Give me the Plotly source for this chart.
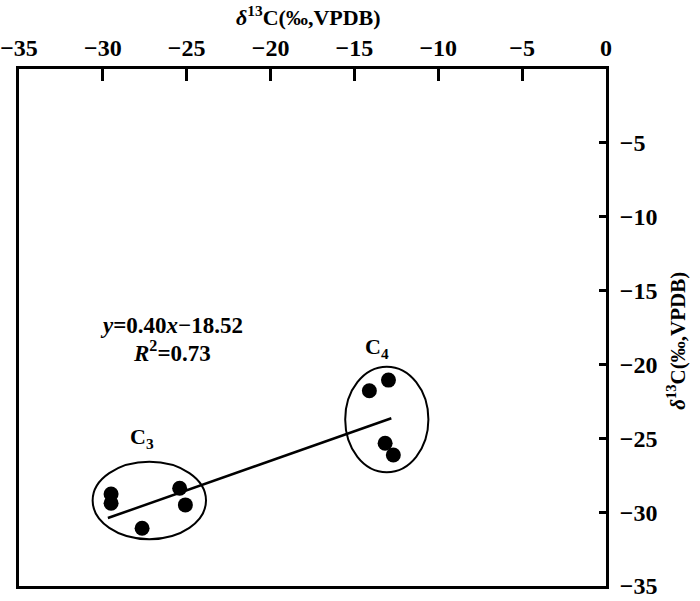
import plotly.graph_objects as go

# Data
c3_x = [-29.51, -29.51, -25.42, -25.08, -27.66]
c3_y = [-28.77, -29.40, -28.38, -29.51, -31.09]
c4_x = [-14.11, -12.97, -13.17, -12.68]
c4_y = [-21.78, -21.06, -25.34, -26.13]

slope = 0.40
intercept = -18.52
fit_x = [-29.7, -12.8]
fit_y = [slope * v + intercept for v in fit_x]

# cluster ellipses: centre x, centre y, half-width, half-height
ell_c3 = [-27.23, -29.21, 3.38, 2.62]
ell_c4 = [-13.07, -23.73, 2.48, 3.57]

x_ticks = [-35, -30, -25, -20, -15, -10, -5, 0]
y_ticks = [-35, -30, -25, -20, -15, -10, -5]

FONT = "Liberation Serif"

fig = go.Figure()
fig.add_trace(go.Scatter(x=fit_x, y=fit_y, mode="lines",
                         line=dict(color="black", width=2.5), showlegend=False))
fig.add_trace(go.Scatter(x=c3_x + c4_x, y=c3_y + c4_y, mode="markers",
                         marker=dict(color="black", size=15), showlegend=False))

for e in (ell_c3, ell_c4):
    fig.add_shape(type="circle", xref="x", yref="y",
                  x0=e[0] - e[2], x1=e[0] + e[2], y0=e[1] - e[3], y1=e[1] + e[3],
                  line=dict(color="black", width=2))

ann_font = dict(family=FONT, size=23, color="black")
fig.add_annotation(x=-27.66, y=-24.98, text="<b>C<sub>3</sub></b>", showarrow=False,
                   font=dict(family=FONT, size=22, color="black"))
fig.add_annotation(x=-13.67, y=-18.90, text="<b>C<sub>4</sub></b>", showarrow=False,
                   font=dict(family=FONT, size=22, color="black"))
fig.add_annotation(x=-25.88, y=-17.34, text="<b><i>y</i>=0.40<i>x</i>\u221218.52</b>", showarrow=False, font=ann_font)
fig.add_annotation(x=-25.88, y=-19.15, text="<b><i>R</i><sup>2</sup>=0.73</b>", showarrow=False, font=ann_font)

title_text = "<b><i>\u03b4</i><sup>13</sup>C(\u2030,VPDB)</b>"
fig.add_annotation(xref="paper", yref="paper", x=0.493, y=1.103, text=title_text,
                   showarrow=False, xanchor="center", yanchor="middle",
                   font=dict(family=FONT, size=22, color="black"))
fig.add_annotation(xref="paper", yref="paper", x=1.12, y=0.475, text=title_text,
                   showarrow=False, textangle=-90, xanchor="center", yanchor="middle",
                   font=dict(family=FONT, size=21, color="black"))

fig.update_xaxes(side="top", range=[-35, 0], tickvals=x_ticks, ticks="inside",
                 ticklen=12, tickwidth=2.5, tickcolor="black", showline=True,
                 linecolor="black", linewidth=3, mirror=True, showgrid=False,
                 zeroline=False, automargin=False, ticklabeloverflow="allow",
                 tickfont=dict(family=FONT, size=24, color="black", weight="bold"))
fig.update_yaxes(side="right", range=[-35, 0], tickvals=y_ticks, ticks="inside",
                 ticklen=7, tickwidth=2.5, tickcolor="black", showline=True,
                 linecolor="black", linewidth=3, mirror=True, showgrid=False,
                 zeroline=False, automargin=False, ticklabelstandoff=6,
                 ticklabeloverflow="allow",
                 tickfont=dict(family=FONT, size=24, color="black", weight="bold"))

fig.update_layout(width=700, height=601, plot_bgcolor="white", paper_bgcolor="white",
                  margin=dict(l=18.5, r=94, t=68.5, b=15), showlegend=False)

# remove the browser's default body margin so the figure fills the window
fig.write_html("out.html", config={"displayModeBar": False},
               post_script="document.body.style.margin='0';document.body.style.overflow='hidden';")
